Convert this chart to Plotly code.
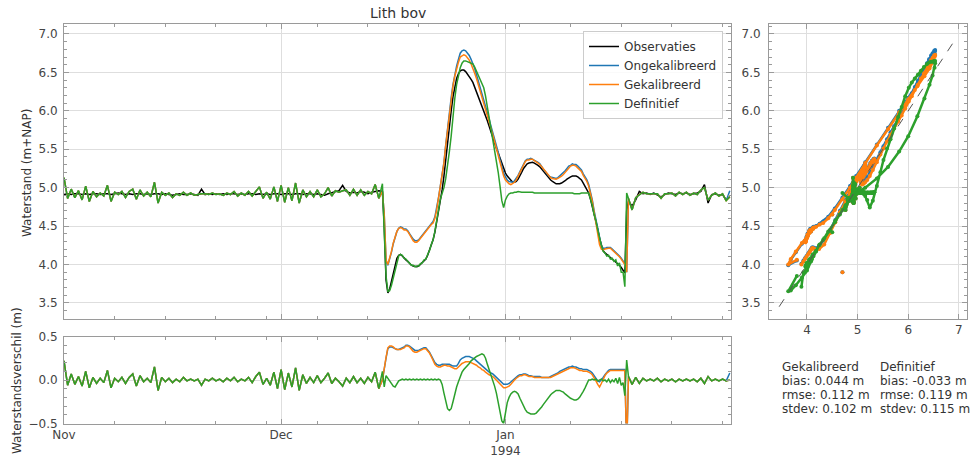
import pandas as pd
import plotly.graph_objects as go

# ---------------- data ----------------
# Segment A: 1993-11-01 00:00 .. 1993-12-14 12:00, every 12 h
obs_nov_dec = [
    4.91, 4.92, 4.91, 4.92, 4.92, 4.91, 4.92, 4.91,
    4.92, 4.92, 4.91, 4.92, 4.92, 4.91, 4.92, 4.93,
    4.92, 4.91, 4.92, 4.91, 4.92, 4.92, 4.91, 4.92,
    4.91, 4.92, 4.92, 4.91, 4.92, 4.91, 4.90, 4.91,
    4.92, 4.91, 4.91, 4.92, 4.91, 4.90, 4.98, 4.91,
    4.92, 4.91, 4.92, 4.91, 4.92, 4.91, 4.92, 4.92,
    4.91, 4.92, 4.91, 4.92, 4.92, 4.91, 4.92, 4.91,
    4.92, 4.91, 4.92, 4.92, 4.91, 4.92, 4.92, 4.91,
    4.92, 4.92, 4.91, 4.92, 4.92, 4.91, 4.92, 4.91,
    4.90, 4.92, 4.93, 4.94, 4.96, 5.03, 4.95, 4.93,
    4.94, 4.93, 4.95, 4.94, 4.92, 4.94, 4.95, 4.96,
]
res_nov_dec = [
    0.22, -0.06, 0.07, -0.05, 0.04, -0.07, 0.10, -0.09,
    0.03, -0.04, 0.02, -0.03, 0.11, -0.09, 0.02, -0.02,
    0.03, -0.04, 0.03, 0.07, -0.07, 0.05, -0.02, 0.02,
    -0.03, 0.15, -0.12, 0.03, -0.02, 0.02, -0.03, 0.01,
    -0.02, 0.03, -0.01, 0.01, -0.01, 0.01, -0.06, 0.01,
    -0.01, 0.02, -0.01, 0.01, -0.02, 0.02, -0.01, 0.03,
    -0.02, 0.01, -0.01, 0.03, -0.03, 0.04, 0.09, -0.05,
    0.02, -0.06, 0.09, -0.10, 0.12, -0.11, 0.08, -0.08,
    0.14, -0.12, 0.06, -0.04, 0.03, -0.03, 0.05, -0.03,
    0.02, 0.08, -0.04, 0.02, -0.02, -0.07, 0.02, -0.03,
    0.04, -0.03, 0.02, -0.04, 0.03, -0.02, 0.09, -0.10,
]

# Segment B (event): 1993-12-15 00:00 .. 1994-01-17 18:00, every 6 h
obs_event = [
    4.95, 4.50, 3.80, 3.63,
    3.68, 3.78, 3.90, 4.00,
    4.08, 4.12, 4.13, 4.11,
    4.08, 4.06, 4.04, 4.01,
    3.99, 3.98, 3.97, 3.97,
    3.98, 4.00, 4.02, 4.05,
    4.07, 4.12, 4.18, 4.25,
    4.32, 4.42, 4.55, 4.70,
    4.85, 4.97, 5.15, 5.38,
    5.60, 5.82, 6.00, 6.18,
    6.32, 6.42, 6.48, 6.52,
    6.53, 6.53, 6.51, 6.48,
    6.45, 6.41, 6.37, 6.31,
    6.25, 6.19, 6.13, 6.07,
    6.01, 5.94, 5.87, 5.80,
    5.72, 5.65, 5.58, 5.51,
    5.45, 5.38, 5.30, 5.24,
    5.19, 5.15, 5.12, 5.09,
    5.07, 5.07, 5.08, 5.11,
    5.15, 5.20, 5.25, 5.28,
    5.31, 5.32, 5.33, 5.33,
    5.32, 5.31, 5.29, 5.27,
    5.24, 5.21, 5.18, 5.15,
    5.12, 5.10, 5.08, 5.06,
    5.05, 5.05, 5.05, 5.06,
    5.07, 5.09, 5.11, 5.13,
    5.14, 5.15, 5.15, 5.15,
    5.14, 5.12, 5.10, 5.06,
    5.02, 4.98, 4.93, 4.85,
    4.76, 4.65, 4.56, 4.46,
    4.34, 4.24, 4.18, 4.15,
    4.13, 4.11, 4.10, 4.08,
    4.06, 4.04, 4.02, 3.99,
    3.96, 3.93, 3.89, 4.70,
]
res_ong_event = [
    0.00, 0.15, 0.25, 0.36,
    0.38, 0.38, 0.37, 0.36,
    0.35, 0.35, 0.36, 0.37,
    0.38, 0.40, 0.40, 0.39,
    0.37, 0.35, 0.34, 0.34,
    0.34, 0.35, 0.36, 0.37,
    0.37, 0.35, 0.32, 0.28,
    0.24, 0.20, 0.18, 0.17,
    0.17, 0.18, 0.18, 0.18,
    0.18, 0.18, 0.17, 0.16,
    0.16, 0.16, 0.19, 0.23,
    0.25, 0.26, 0.27, 0.27,
    0.27, 0.26, 0.25, 0.24,
    0.22, 0.20, 0.18, 0.16,
    0.15, 0.13, 0.11, 0.09,
    0.08, 0.07, 0.05, 0.03,
    0.01, -0.02, -0.04, -0.05,
    -0.05, -0.05, -0.04, -0.02,
    0.00, 0.02, 0.04, 0.05,
    0.06, 0.06, 0.07, 0.07,
    0.06, 0.05, 0.05, 0.04,
    0.04, 0.04, 0.04, 0.04,
    0.03, 0.03, 0.03, 0.03,
    0.03, 0.04, 0.05, 0.06,
    0.07, 0.08, 0.10, 0.11,
    0.12, 0.13, 0.14, 0.15,
    0.15, 0.16, 0.15, 0.15,
    0.14, 0.13, 0.13, 0.12,
    0.12, 0.12, 0.11, 0.10,
    0.08, 0.05, 0.02, -0.01,
    -0.02, 0.00, 0.03, 0.06,
    0.09, 0.11, 0.12, 0.12,
    0.12, 0.12, 0.12, 0.12,
    0.12, 0.12, 0.12, -0.80,
]
res_gek_event = [
    0.00, 0.15, 0.26, 0.37,
    0.39, 0.39, 0.38, 0.36,
    0.35, 0.35, 0.35, 0.36,
    0.37, 0.39, 0.39, 0.38,
    0.35, 0.33, 0.32, 0.32,
    0.33, 0.34, 0.35, 0.36,
    0.36, 0.34, 0.31, 0.27,
    0.22, 0.18, 0.16, 0.15,
    0.15, 0.16, 0.17, 0.17,
    0.16, 0.16, 0.15, 0.14,
    0.13, 0.13, 0.15, 0.18,
    0.19, 0.20, 0.21, 0.21,
    0.21, 0.20, 0.19, 0.18,
    0.17, 0.15, 0.14, 0.12,
    0.11, 0.09, 0.07, 0.06,
    0.05, 0.04, 0.02, 0.00,
    -0.02, -0.05, -0.07, -0.09,
    -0.09, -0.08, -0.07, -0.05,
    -0.02, 0.00, 0.02, 0.04,
    0.05, 0.05, 0.06, 0.06,
    0.05, 0.04, 0.04, 0.04,
    0.03, 0.03, 0.03, 0.03,
    0.03, 0.03, 0.03, 0.03,
    0.03, 0.03, 0.04, 0.05,
    0.06, 0.07, 0.08, 0.09,
    0.10, 0.11, 0.12, 0.13,
    0.14, 0.14, 0.14, 0.13,
    0.12, 0.11, 0.11, 0.10,
    0.10, 0.10, 0.09, 0.08,
    0.06, 0.03, -0.01, -0.05,
    -0.08, -0.04, 0.01, 0.05,
    0.08, 0.10, 0.11, 0.11,
    0.11, 0.11, 0.11, 0.11,
    0.11, 0.11, 0.11, -0.80,
]
res_def_event = [
    0.10, -0.08, 0.05, 0.02,
    -0.02, -0.05, -0.07, -0.08,
    -0.04, -0.01, 0.00, 0.01,
    0.00, 0.01, 0.00, 0.01,
    0.00, 0.01, 0.00, 0.01,
    0.00, 0.01, 0.00, 0.01,
    0.00, 0.01, 0.00, 0.01,
    0.00, 0.01, 0.00, 0.01,
    0.00, -0.05, -0.15, -0.26,
    -0.33, -0.35, -0.33, -0.25,
    -0.16, -0.08, -0.02, 0.04,
    0.09, 0.12, 0.14, 0.16,
    0.19, 0.22, 0.24, 0.26,
    0.27, 0.28, 0.29, 0.30,
    0.29, 0.25, 0.18, 0.12,
    0.05, -0.02, -0.07, -0.15,
    -0.25, -0.36, -0.47, -0.50,
    -0.35, -0.26, -0.20, -0.16,
    -0.14, -0.13, -0.14, -0.16,
    -0.21, -0.26, -0.31, -0.34,
    -0.37, -0.38, -0.39, -0.39,
    -0.39, -0.38, -0.36, -0.34,
    -0.31, -0.28, -0.25, -0.22,
    -0.19, -0.17, -0.15, -0.13,
    -0.12, -0.12, -0.12, -0.13,
    -0.14, -0.16, -0.18, -0.20,
    -0.21, -0.22, -0.23, -0.23,
    -0.22, -0.20, -0.17, -0.13,
    -0.09, -0.05, 0.00, 0.00,
    0.01, 0.00, 0.01, -0.01,
    0.00, 0.01, -0.01, 0.00,
    -0.02, 0.01, -0.03, 0.00,
    -0.02, 0.02, -0.04, 0.03,
    -0.06, -0.03, -0.18, 0.23,
]

# Segment C: 1994-01-18 00:00 .. 1994-02-01 00:00, every 12 h
obs_jan_feb = [
    4.82, 4.76, 4.84, 4.95, 4.92, 4.93, 4.91, 4.93, 4.90, 4.88,
    4.91, 4.93, 4.92, 4.91, 4.93, 4.92, 4.93, 4.91, 4.92, 4.93,
    4.95, 5.04, 4.80, 4.91, 4.92, 4.90, 4.91, 4.84, 4.88,
]
res_jan_feb = [
    0.04, -0.05, 0.03, -0.04, 0.02, -0.01, 0.01, -0.01, 0.02, -0.02,
    0.01, -0.01, 0.01, -0.02, 0.01, -0.01, 0.01, -0.01, 0.01, -0.02,
    0.02, -0.04, 0.04, -0.01, 0.01, -0.01, 0.01, -0.01, 0.00,
]
res_ong_last = [0.08]

series_names = ["Observaties", "Ongekalibreerd", "Gekalibreerd", "Definitief"]
series_colors = ["#000000", "#1f77b4", "#ff7f0e", "#2ca02c"]
month_ticks = ["1993-11-01", "1993-12-01", "1994-01-01"]
month_labels = ["Nov", "Dec", "Jan<br>1994"]
one_to_one = [3.45, 6.95]

stats_gek = ["Gekalibreerd", "bias: 0.044 m", "rmse: 0.112 m", "stdev: 0.102 m"]
stats_def = ["Definitief", "bias: -0.033 m", "rmse: 0.119 m", "stdev: 0.115 m"]

# ---------------- assemble ----------------
times = (list(pd.date_range("1993-11-01", periods=len(obs_nov_dec), freq="12h"))
         + list(pd.date_range("1993-12-15", periods=len(obs_event), freq="6h"))
         + list(pd.date_range("1994-01-18", periods=len(obs_jan_feb), freq="12h")))
obs = obs_nov_dec + obs_event + obs_jan_feb
res_ong = res_nov_dec + res_ong_event + res_jan_feb[:-1] + res_ong_last
res_gek = res_nov_dec + res_gek_event + res_jan_feb
res_def = res_nov_dec + res_def_event + res_jan_feb
ong = [round(o + r, 3) for o, r in zip(obs, res_ong)]
gek = [round(o + r, 3) for o, r in zip(obs, res_gek)]
dfn = [round(o + r, 3) for o, r in zip(obs, res_def)]


def scatter_path(xs, ys, jump=0.3):
    """Break the scatter trail where observation or model jumps quickly."""
    px, py = [xs[0]], [ys[0]]
    for i in range(1, len(xs)):
        if abs(xs[i] - xs[i - 1]) > jump or abs(ys[i] - ys[i - 1]) > jump:
            px.append(None)
            py.append(None)
        px.append(xs[i])
        py.append(ys[i])
    return px, py


W, H = 978, 463
FONT = "DejaVu Sans"
TXT = "#333333"
GRID = "#dedede"
SPINE = "#9a9a9a"

fig = go.Figure()

# main panel
for name, col, ys in zip(series_names, series_colors, [obs, ong, gek, dfn]):
    fig.add_trace(go.Scatter(x=times, y=ys, name=name, mode="lines",
                             line=dict(color=col, width=1.5),
                             xaxis="x", yaxis="y"))
# residual panel
for col, ys in zip(series_colors[1:], [res_ong, res_gek, res_def]):
    fig.add_trace(go.Scatter(x=times, y=ys, mode="lines", showlegend=False,
                             line=dict(color=col, width=1.5),
                             xaxis="x2", yaxis="y2"))
# scatter panel
for col, ys in zip(series_colors[1:], [ong, gek, dfn]):
    sx, sy = scatter_path(obs, ys)
    fig.add_trace(go.Scatter(x=sx, y=sy, mode="lines+markers", showlegend=False,
                             connectgaps=False,
                             line=dict(color=col, width=2.5),
                             marker=dict(color=col, size=4),
                             xaxis="x3", yaxis="y3"))
fig.add_trace(go.Scatter(x=one_to_one, y=one_to_one, mode="lines", showlegend=False,
                         line=dict(color="#555555", width=1, dash="dash"),
                         xaxis="x3", yaxis="y3"))

xdom = [64 / W, 731 / W]
ydom_main = [1 - 319 / H, 1 - 24 / H]
ydom_res = [1 - 423.5 / H, 1 - 336.5 / H]
xdom_sc = [769 / W, 967 / W]
xrange_t = ["1993-11-01 00:00", "1994-02-01 04:00"]

common = dict(showline=True, linecolor=SPINE, linewidth=1, mirror="ticks",
              ticks="inside", ticklen=5, tickcolor=SPINE, automargin=False,
              showgrid=True, gridcolor=GRID, gridwidth=1, zeroline=False,
              tickfont=dict(family=FONT, size=12, color="#444444"))
minor_x = dict(dtick=7 * 86400000, tick0="1993-11-08", ticks="inside",
               ticklen=3, tickcolor=SPINE, showgrid=False)
minor_y = dict(dtick=0.1, ticks="inside", ticklen=3, tickcolor=SPINE, showgrid=False)

fig.update_layout(
    width=W, height=H, autosize=False,
    margin=dict(l=0, r=0, t=0, b=0, pad=0, autoexpand=False),
    paper_bgcolor="white", plot_bgcolor="white",
    font=dict(family=FONT, size=12, color=TXT),
    xaxis=dict(domain=xdom, anchor="y", type="date", range=xrange_t,
               tickmode="array", tickvals=month_ticks, showticklabels=False,
               minor=minor_x, **common),
    yaxis=dict(domain=ydom_main, anchor="x", range=[3.29, 7.13], dtick=0.5,
               tick0=0, tickformat=".1f", minor=minor_y, ticklabelstandoff=3, **common),
    xaxis2=dict(domain=xdom, anchor="y2", type="date", range=xrange_t,
                tickmode="array", tickvals=month_ticks, ticktext=month_labels,
                minor=minor_x, **common),
    yaxis2=dict(domain=ydom_res, anchor="x2", range=[-0.5, 0.5],
                tickmode="array", tickvals=[-0.5, 0.0, 0.5],
                ticktext=["\u22120.5", "0.0", "0.5"], minor=minor_y,
                ticklabelstandoff=3, **common),
    xaxis3=dict(domain=xdom_sc, anchor="y3", range=[3.25, 7.16],
                tickmode="array", tickvals=[4, 5, 6, 7], **common),
    yaxis3=dict(domain=ydom_main, anchor="x3", range=[3.29, 7.13], dtick=0.5,
                tick0=0, tickformat=".1f", minor=minor_y, ticklabelstandoff=5, **common),
    legend=dict(x=723 / W, xanchor="right", y=1 - 31 / H, yanchor="top",
                bgcolor="rgba(255,255,255,0.85)", bordercolor="#cccccc",
                borderwidth=1, font=dict(family=FONT, size=12, color=TXT),
                tracegroupgap=0, itemwidth=30),
    showlegend=True,
)

annotations = [
    dict(text="Lith bov", x=397.5 / W, y=1 - 13 / H, xref="paper", yref="paper",
         showarrow=False, font=dict(family=FONT, size=14, color=TXT),
         xanchor="center", yanchor="middle"),
    dict(text="Waterstand (m+NAP)", x=27 / W, y=1 - 173 / H, xref="paper", yref="paper",
         showarrow=False, textangle=-90, font=dict(family=FONT, size=12, color=TXT),
         xanchor="center", yanchor="middle"),
    dict(text="Waterstandsverschil (m)", x=17 / W, y=1 - 381 / H, xref="paper",
         yref="paper", showarrow=False, textangle=-90,
         font=dict(family=FONT, size=12, color=TXT), xanchor="center", yanchor="middle"),
]
for i, (a, b) in enumerate(zip(stats_gek, stats_def)):
    ypx = 367 + 14 * i
    for xpx, txt in [(780, a), (878, b)]:
        annotations.append(dict(text=txt, x=xpx / W, y=1 - ypx / H, xref="paper",
                                yref="paper", showarrow=False, xanchor="left",
                                yanchor="middle",
                                font=dict(family=FONT, size=12, color=TXT)))
fig.update_layout(annotations=annotations)

fig.write_html(
    "out.html",
    config={"displayModeBar": False},
    post_script="document.body.style.margin='0';document.body.style.overflow='hidden';",
)
